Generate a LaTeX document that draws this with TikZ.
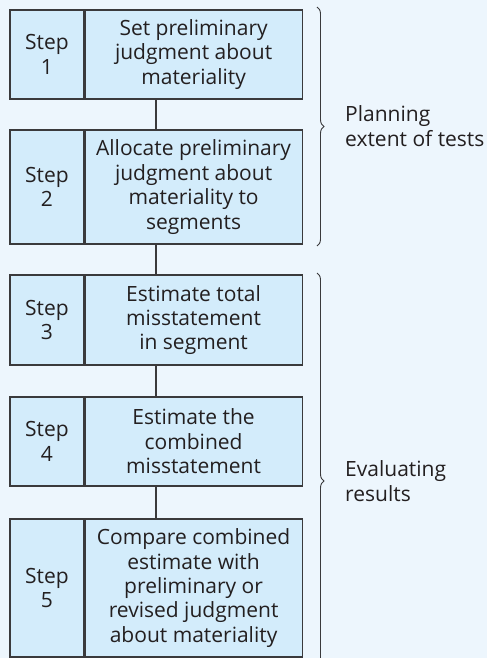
\documentclass[tikz,border=0pt]{standalone}
\usepackage{fontspec}
\setmainfont{Open Sans}
\usepackage{tikz}
\usetikzlibrary{positioning}
\usetikzlibrary{calc}
\usetikzlibrary{decorations.pathreplacing}

\definecolor{pagebg}{HTML}{EDF6FD}
\definecolor{boxbg}{HTML}{D3ECFB}
\definecolor{inkline}{HTML}{3A3A3C}
\definecolor{inktext}{HTML}{231F20}

\begin{document}
\begin{tikzpicture}[x=1pt, y=-1pt, font=\fontsize{21}{24.4}\selectfont, text=inktext]

  \tikzset{stepcell/.style = {shape=rectangle, draw=inkline, fill=boxbg, line width=1.1pt,
      minimum width=74pt, align=center, inner sep=0pt}}
  \tikzset{taskcell/.style = {shape=rectangle, draw=inkline, fill=boxbg, line width=1.1pt,
      minimum width=217pt, align=center, inner sep=0pt}}
  \tikzset{link/.style = {draw=inkline, line width=2.6pt}}
  \tikzset{bracket/.style = {draw=inkline, line width=0.9pt,
      decorate, decoration={brace, amplitude=7pt}}}
  \tikzset{phase/.style = {align=left, anchor=west, inner sep=0pt}}

  % background
  \fill[pagebg] (0,0) rectangle (487,658);
  \useasboundingbox (0,0) rectangle (487,658);

  % steps
  \node[stepcell, minimum height=89pt]  (s1) at (47,54.5)  {Step\\1};
  \node[taskcell, minimum height=89pt, right=0pt of s1]  (t1)
    {Set preliminary\\judgment about\\materiality};
  \node[stepcell, minimum height=114pt] (s2) at (47,187)   {Step\\2};
  \node[taskcell, minimum height=114pt, right=0pt of s2] (t2)
    {Allocate preliminary\\judgment about\\materiality to\\segments};
  \node[stepcell, minimum height=90pt]  (s3) at (47,320)   {Step\\3};
  \node[taskcell, minimum height=90pt, right=0pt of s3]  (t3)
    {Estimate total\\misstatement\\in segment};
  \node[stepcell, minimum height=89pt]  (s4) at (47,441.5) {Step\\4};
  \node[taskcell, minimum height=89pt, right=0pt of s4]  (t4)
    {Estimate the\\combined\\misstatement};
  \node[stepcell, minimum height=138pt] (s5) at (47,588)   {Step\\5};
  \node[taskcell, minimum height=138pt, right=0pt of s5] (t5)
    {Compare combined\\estimate with\\preliminary or\\revised judgment\\about materiality};

  % links
  \foreach \a/\b in {1/2, 2/3, 3/4, 4/5}
    \draw[link] ($(s\a.south west)!0.5!(t\a.south east)$) -- ($(s\b.north west)!0.5!(t\b.north east)$);

  % braces
  \coordinate (plantop) at (317,7);
  \coordinate (planbot) at (317,246);
  \coordinate (evaltop) at (317,273);
  \coordinate (evalbot) at (317,689);
  \draw[bracket] (plantop) -- (planbot);
  \draw[bracket] (evaltop) -- (evalbot);
  \node[phase] (plan) at (345,126) {Planning\\extent of tests};
  \node[phase] (eval) at (345,481) {Evaluating\\results};
\end{tikzpicture}
\end{document}
